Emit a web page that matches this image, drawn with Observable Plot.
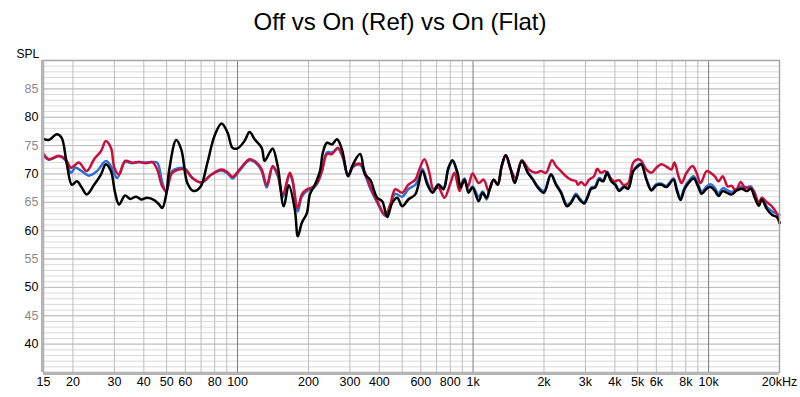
<!DOCTYPE html>
<html>
<head>
<meta charset="utf-8">
<script src="https://cdn.jsdelivr.net/npm/d3@7"></script>
<script src="https://cdn.jsdelivr.net/npm/@observablehq/plot@0.6"></script>
<style>
  html, body { margin: 0; padding: 0; background: #fff; }
  #wrap { width: 800px; height: 397px; overflow: hidden; }
  #title { height: 40px; line-height: 44px; text-align: center; font-family: "Liberation Sans", Arial, sans-serif; font-size: 24px; color: #000; }
</style>
</head>
<body>
<div id="wrap">
  <div id="title">Off vs On (Ref) vs On (Flat)</div>
  <div id="chart"></div>
</div>
<script>
// ---- Data ----
const offFreq = [15,15.8,17.1,17.9,18.8,19.8,20.8,21.8,22.9,24.6,
  26.3,27.6,29.0,30.2,31.4,33.3,35.0,37.1,39.0,41.3,
  44.3,46.5,47.9,49.8,51.3,54.9,57.7,61.2,64.9,69.5,
  74.5,79.8,85.5,90.7,95.2,100,107,112.5,118.2,126.6,
  130.3,136.9,141,148.1,157.1,165,175.1,180.3,187.5,197,
  202.8,213,223.8,230.4,239.6,251.7,264.4,277.7,294.5,309.3,
  331.4,348.1,365.6,391.5,411.3,432,453.7,476.5,500.4,530.8,
  568.6,609.1,639.7,671.9,712.6,748.5,786.2,817.7,858.9,884.6,
  920.1,956.9,995.1,1056,1098,1141,1176,1223,1272,1323,
  1376,1445,1503,1610,1708,1794,1884,1999,2141,2248,
  2361,2504,2604,2735,2846,2960,3078,3170,3297,3429,
  3567,3710,3858,4012,4173,4383,4559,4788,5029,5180,
  5441,5715,6003,6303,6622,7095,7306,7599,7902,8218,
  8635,9067,9338,9807,10200,10610,11030,11480,11940,12540,
  13170,13830,14520,15110,15710,16340,16830,17680,18570,19500,
  20000];
const offSPL = [76.2,76.0,77.0,76.4,72.0,68.1,68.7,67.6,66.4,68.1,
  69.9,71.7,70.5,66.7,64.6,66.2,65.6,66.0,65.5,65.8,
  65.4,64.6,64.0,66.4,70.8,76.0,74.3,68.4,67.0,67.7,
  72.0,76.7,78.9,77.3,74.6,74.5,75.8,77.4,76.1,74.6,
  72.3,73.8,74.5,71.4,64.3,68.0,63.7,59.0,61.4,63.1,
  66.4,68.1,70.5,73.8,75.5,75.2,76.1,74.3,69.6,71.7,
  73.5,69.9,69.0,65.8,65.2,62.4,64.9,65.8,64.3,65.5,
  66.4,70.5,68.1,66.7,68.1,67.3,71.1,72.4,70.2,67.6,
  69.0,66.7,67.6,65.2,66.7,65.8,67.3,69.0,68.1,71.4,
  73.3,70.8,68.4,72.3,70.2,69.0,67.6,66.7,69.9,68.1,
  66.7,64.3,64.9,66.2,65.4,64.8,66.1,67.4,67.6,69.0,
  68.7,70.2,68.7,68.1,67.0,67.7,67.4,70.5,71.4,71.7,
  69.0,67.1,68.0,68.1,67.7,69.0,67.3,65.4,67.3,68.4,
  69.2,67.6,66.5,67.4,67.7,67.1,66.1,67.0,66.7,66.4,
  67.1,67.4,67.0,67.4,65.8,64.4,65.5,63.8,62.8,62.4,
  61.4];

const refFreq = [15,15.8,17.4,18.6,19.6,20.5,21.8,23.4,25.3,27.6,
  29.0,30.8,33.3,35.7,38.2,40.9,43.4,45.6,47.9,49.8,
  52.8,59.4,64.3,70.2,77.5,85.5,90.7,95.2,102,112.5,
  120.5,126.6,133,141,148.1,155.6,166.6,171,180,187.5,
  197,206.8,217.3,228.2,239.6,251.7,267,280.4,294.5,309.3,
  331.4,348.1,365.6,391.5,423.6,444.9,467.3,500.4,530.8,568.6,
  591.4,609.1,639.7,671.9,712.6,748.5,786.2,817.7,858.9,884.6,
  920.1,956.9,995.1,1056,1098,1141,1176,1223,1272,1323,
  1376,1445,1503,1610,1708,1794,1884,1999,2141,2248,
  2361,2504,2604,2735,2846,2960,3078,3170,3297,3429,
  3567,3710,3858,4012,4173,4383,4559,4788,5029,5180,
  5441,5715,6003,6303,6622,7095,7306,7599,7902,8218,
  8635,9067,9338,9807,10200,10610,11030,11480,11940,12540,
  13170,13830,14520,15110,15710,16340,16830,17680,18570,19500,
  20000];
const refSPL = [73.2,72.5,73.1,72.4,70.2,71.1,70.5,69.7,70.5,72.3,
  71.4,69.3,72.1,71.9,72.1,72.0,72.1,72.0,68.5,66.8,
  70.5,71.0,69.3,68.5,69.9,70.6,70.1,69.2,70.6,72.4,
  71.8,70.5,67.6,71.2,69.7,65.9,70.0,68.8,63.4,66.0,
  67.0,67.3,68.2,70.6,73.8,73.8,74.5,72.8,69.7,71.2,
  71.6,69.8,67.5,65.0,62.6,64.3,66.5,66.0,67.3,68.1,
  69.5,70.9,68.5,66.9,68.2,67.5,71.0,72.2,70.0,67.8,
  69.2,67.0,67.8,66.0,66.9,65.5,67.3,69.0,68.1,71.4,
  73.3,70.8,68.6,72.3,70.3,69.1,67.8,67.0,70.0,68.3,
  66.9,64.6,65.1,66.5,65.6,65.0,66.3,67.6,67.8,69.3,
  68.9,70.4,68.9,68.3,67.2,67.9,67.6,70.6,71.6,71.8,
  69.2,67.3,68.2,68.3,67.9,69.2,67.6,65.8,67.6,68.7,
  69.6,68.0,66.9,67.8,68.2,67.6,66.6,67.5,67.2,66.8,
  67.4,67.8,67.6,67.8,66.4,64.6,65.6,64.2,63.4,63.0,
  62.8];

const flatFreq = [15,15.8,17.4,18.6,19.6,20.2,21.2,22.9,24.6,26.3,
  27.6,29.0,30.0,31.4,33.3,35.7,38.2,40.9,43.4,45.6,
  47.9,49.8,52.8,59.4,64.3,70.2,77.5,85.5,90.7,95.2,
  102,112.5,120.5,126.6,133,141,148.1,155.6,166.6,171,
  180,187.5,197,206.8,217.3,228.2,239.6,251.7,267,280.4,
  294.5,309.3,331.4,348.1,365.6,391.5,423.6,444.9,467.3,500.4,
  530.8,568.6,591.4,621.2,652.4,678.5,712.6,755.9,801.8,834,
  876,911.1,950,995,1056,1109,1165,1223,1272,1323,
  1376,1445,1518,1610,1725,1848,1941,2038,2162,2248,
  2361,2480,2604,2735,2790,2873,2989,3108,3265,3362,
  3498,3637,3782,3973,4173,4340,4559,4788,5029,5180,
  5441,5715,6003,6303,6622,6954,7164,7450,7673,8059,
  8550,8890,9247,9807,10200,10610,11030,11480,12050,12540,
  13040,13690,14240,14900,15560,16340,16830,17680,18570,19500,
  20000];
const flatSPL = [73.6,72.6,73.2,72.6,71.1,71.4,72.0,70.5,72.6,74.0,
  75.8,74.6,71.1,69.9,72.3,72.0,72.1,71.9,72.1,70.8,
  67.8,67.0,70.2,70.8,69.3,68.5,69.9,70.8,70.3,69.5,
  70.8,72.6,72.0,70.8,68.0,71.4,69.9,66.4,70.2,69.0,
  64.0,66.4,67.3,67.6,68.4,70.5,73.5,73.5,74.6,72.9,
  69.7,71.4,71.8,70.2,67.8,65.2,62.8,64.6,67.3,66.7,
  68.1,69.0,70.8,72.6,70.2,67.3,67.6,65.8,68.4,70.2,
  67.0,69.0,67.8,70.1,68.4,69.0,67.0,69.0,68.1,71.4,
  73.3,70.8,69.3,72.4,70.8,70.2,70.5,70.2,72.4,71.4,
  70.5,69.6,69.0,68.7,68.1,68.6,68.0,69.0,69.6,70.9,
  70.2,70.5,69.6,68.7,68.9,68.1,68.4,72.0,72.6,72.3,
  70.8,70.2,71.1,71.7,71.3,70.8,72.0,69.6,68.4,70.2,
  71.4,70.2,68.4,70.5,70.2,69.6,68.7,69.6,67.8,67.9,
  67.0,68.6,67.6,67.6,67.0,64.9,65.8,65.0,64.3,63.0,
  61.3];

const xTicks = [15,20,30,40,50,60,80,100,200,300,400,600,800,1000,2000,3000,4000,5000,6000,8000,10000,20000];
const xTickLabels = ["15","20","30","40","50","60","80","100","200","300","400","600","800","1k","2k","3k","4k","5k","6k","8k","10k","20kHz"];
const yTicksDark = [40,50,60,70,80];
const yTicksLight = [45,55,65,75,85];
const gridFreqs = [20,30,40,50,60,70,80,90,200,300,400,500,600,700,800,900,2000,3000,4000,5000,6000,7000,8000,9000,20000];
const decadeFreqs = [100,1000,10000];

// ---- Build tables ----
const toRows = (fs, vs) => fs.map((f, i) => ({f, v: vs[i]}));
const offRows = toRows(offFreq, offSPL);
const refRows = toRows(refFreq, refSPL);
const flatRows = toRows(flatFreq, flatSPL);
const xLabelRows = xTicks.map((t, i) => ({t, label: xTickLabels[i]}));

const minorDb = d3.range(36, 90);
const majorDb = d3.range(40, 90, 5);

const chart = Plot.plot({
  width: 800,
  height: 357,
  marginLeft: 43,
  marginRight: 21,
  marginTop: 20,
  marginBottom: 25,
  style: {fontFamily: "'Liberation Sans', Arial, sans-serif", fontSize: "12px", background: "#fff", color: "#000", overflow: "visible"},
  x: {type: "log", domain: [15, 20000], axis: null},
  y: {domain: [35, 90], axis: null},
  marks: [
    Plot.ruleY(minorDb, {stroke: "#dadada", strokeWidth: 1}),
    Plot.ruleY(majorDb, {stroke: "#bdbdbd", strokeWidth: 1}),
    Plot.ruleX(gridFreqs, {stroke: "#bdbdbd", strokeWidth: 1}),
    Plot.ruleX(decadeFreqs, {stroke: "#7a7a7a", strokeWidth: 1}),
    Plot.line(refRows, {x: "f", y: "v", stroke: "#2e6fd6", strokeWidth: 2.5, curve: "catmull-rom"}),
    Plot.line(flatRows, {x: "f", y: "v", stroke: "#c8103a", strokeWidth: 2.5, curve: "catmull-rom"}),
    Plot.line(offRows, {x: "f", y: "v", stroke: "#000", strokeWidth: 2.5, curve: "catmull-rom"}),
    Plot.frame({stroke: "#a6a6a6", strokeWidth: 1.5}),
    Plot.ruleX([15], {stroke: "#b4b4b4", strokeWidth: 3, dx: -1}),
    Plot.ruleY([35], {stroke: "#b4b4b4", strokeWidth: 3, dy: 1}),
    Plot.text(xLabelRows, {x: "t", text: "label", frameAnchor: "bottom", dy: 13, fill: "#000", fontSize: 12.5}),
    Plot.text(yTicksDark, {y: d => d, text: d => String(d), frameAnchor: "left", dx: -5, textAnchor: "end", fill: "#000", fontSize: 12.5}),
    Plot.text(yTicksLight, {y: d => d, text: d => String(d), frameAnchor: "left", dx: -5, textAnchor: "end", fill: "#8a8a8a", fontSize: 12.5}),
    Plot.text(["SPL"], {frameAnchor: "top-left", dx: -27, dy: -11, textAnchor: "start", fill: "#000", fontSize: 12})
  ]
});
document.getElementById("chart").appendChild(chart);
</script>
</body>
</html>
